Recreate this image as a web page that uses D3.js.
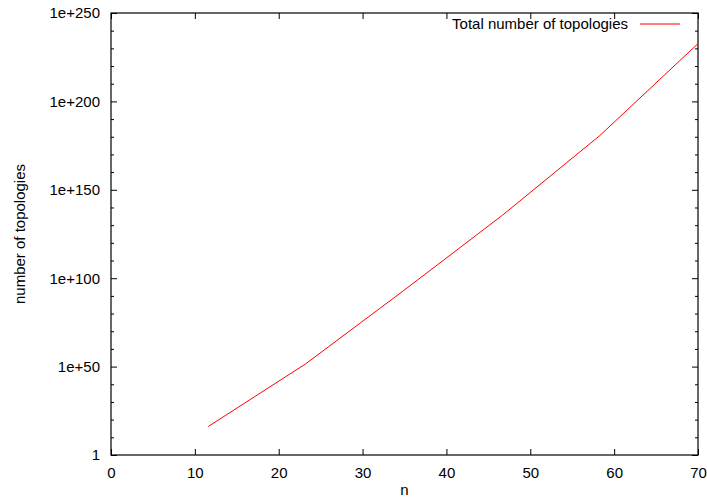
<!DOCTYPE html>
<html>
<head>
<meta charset="utf-8">
<script src="https://d3js.org/d3.v7.min.js"></script>
<style>
  body { margin: 0; background: #fff; }
  text { font-family: "Liberation Sans", Arial, sans-serif; font-size: 15px; fill: #000; }
</style>
</head>
<body>
<div id="chart"></div>
<script>
// data
var nValues = [11.6, 23.2, 34.9, 46.7, 58.3, 70];
var topologies = [1.3e16, 3.2e51, 1e93, 5e135, 5e180, 5e232];
var seriesName = "Total number of topologies";

var xTicks = [0, 10, 20, 30, 40, 50, 60, 70];
var yTicks = [1, 1e50, 1e100, 1e150, 1e200, 1e250];
var yTickLabels = ["1", "1e+50", "1e+100", "1e+150", "1e+200", "1e+250"];
var yMinorTicks = [1e10, 1e20, 1e30, 1e40, 1e60, 1e70, 1e80, 1e90,
                   1e110, 1e120, 1e130, 1e140, 1e160, 1e170, 1e180, 1e190,
                   1e210, 1e220, 1e230, 1e240];

var W = 707, H = 499;
var margin = { top: 13, right: 9, bottom: 44, left: 111 },
    width = W - margin.left - margin.right,
    height = H - margin.top - margin.bottom;

var svg = d3.select("#chart").append("svg")
    .attr("width", W)
    .attr("height", H);

var g = svg.append("g")
    .attr("transform", "translate(" + margin.left + "," + margin.top + ")");

var x = d3.scaleLinear().domain([0, 70]).range([0, width]);
var y = d3.scaleLog().domain([1, 1e250]).range([height, 0]);

// bottom axis with labels, ticks pointing inward
g.append("g")
    .attr("transform", "translate(0," + height + ")")
    .call(d3.axisBottom(x).tickValues(xTicks).tickSize(-6).tickPadding(12).tickFormat(d3.format("d")));

// top mirror ticks
g.append("g")
    .call(d3.axisTop(x).tickValues(xTicks).tickSize(-6).tickFormat(""));

// left axis
g.append("g")
    .call(d3.axisLeft(y).tickValues(yTicks).tickSize(-6).tickPadding(11)
        .tickFormat(function(d, i) { return yTickLabels[i]; }));
g.append("g")
    .call(d3.axisLeft(y).tickValues(yMinorTicks).tickSize(-3).tickFormat(""));

// right mirror ticks
g.append("g")
    .attr("transform", "translate(" + width + ",0)")
    .call(d3.axisRight(y).tickValues(yTicks).tickSize(-6).tickFormat(""));
g.append("g")
    .attr("transform", "translate(" + width + ",0)")
    .call(d3.axisRight(y).tickValues(yMinorTicks).tickSize(-3).tickFormat(""));

g.selectAll(".domain").remove();
g.selectAll(".tick line").attr("stroke", "#000").attr("stroke-width", 1);
g.selectAll(".tick text").style("font-family", "'Liberation Sans', Arial, sans-serif").style("font-size", "15px");

// border box
g.append("rect")
    .attr("x", 0).attr("y", 0)
    .attr("width", width).attr("height", height)
    .attr("fill", "none")
    .attr("stroke", "#000")
    .attr("stroke-width", 1.2);

// the curve
var line = d3.line()
    .x(function(d, i) { return x(nValues[i]); })
    .y(function(d) { return y(d); });

g.append("path")
    .datum(topologies)
    .attr("fill", "none")
    .attr("stroke", "#ff0000")
    .attr("stroke-width", 1)
    .attr("d", line);

// legend
g.append("text")
    .attr("x", 517)
    .attr("y", 16)
    .attr("text-anchor", "end")
    .text(seriesName);
g.append("line")
    .attr("x1", 529).attr("x2", 569)
    .attr("y1", 11).attr("y2", 11)
    .attr("stroke", "#ff0000")
    .attr("stroke-width", 1);

// axis titles
svg.append("text")
    .attr("x", margin.left + width / 2)
    .attr("y", 495)
    .attr("text-anchor", "middle")
    .text("n");

svg.append("text")
    .attr("transform", "translate(25," + (margin.top + height / 2) + ") rotate(-90)")
    .attr("text-anchor", "middle")
    .text("number of topologies");
</script>
</body>
</html>
